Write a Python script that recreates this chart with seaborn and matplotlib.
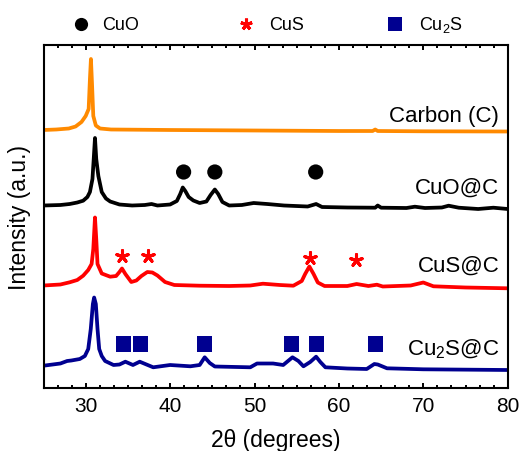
import numpy as np
import pandas as pd
import matplotlib
matplotlib.use("Agg")
import matplotlib.pyplot as plt
from matplotlib.lines import Line2D
from matplotlib.ticker import MultipleLocator, AutoMinorLocator, NullLocator
import seaborn as sns

# ---------------- data ----------------
carbon_x = [25.0, 26.5, 28.0, 28.8, 29.5, 30.0, 30.35, 30.5, 30.62, 30.75, 30.9, 31.2, 31.7,
            33.0, 40.0, 50.0, 60.0, 64.0, 64.3, 64.6, 70.0, 80.0]
carbon_y = [258.0, 258.5, 259.5, 261.5, 266.0, 272.0, 279.0, 309.0, 329.0, 304.0, 272.0, 262.5, 259.5,
            258.5, 258.0, 257.5, 257.0, 257.0, 258.5, 257.0, 256.7, 256.5]

cuo_x = [25.0, 27.0, 28.1, 29.0, 29.7, 30.2, 30.5, 30.8, 30.95, 31.1, 31.25, 31.5, 31.9, 32.4, 32.9,
         34.0, 35.5, 37.0, 37.8, 38.5, 40.0, 40.8, 41.2, 41.5, 41.8, 42.2, 42.75, 43.5, 44.3, 44.8,
         45.3, 45.7, 46.2, 47.0, 48.5, 49.9, 51.5, 53.5, 56.3, 57.3, 58.0, 61.0, 64.3, 64.6, 65.0,
         68.0, 69.0, 70.2, 72.2, 73.0, 74.2, 76.5, 78.3, 80.0]
cuo_y = [182.5, 183.0, 184.0, 185.5, 187.3, 191.0, 196.0, 209.0, 229.0, 250.0, 229.0, 212.0, 196.0, 189.5, 186.5,
         183.5, 182.5, 183.0, 184.0, 182.5, 183.5, 187.0, 194.0, 200.5, 197.0, 191.0, 187.5, 185.0, 186.5, 193.0,
         198.5, 194.0, 186.0, 182.5, 183.0, 185.0, 184.0, 182.5, 181.5, 184.0, 181.0, 180.5, 180.3, 182.5, 180.3,
         180.0, 181.3, 180.0, 180.5, 182.3, 180.3, 179.0, 180.3, 179.0]

cus_x = [25.0, 27.0, 28.1, 29.0, 29.7, 30.3, 30.7, 30.9, 31.1, 31.25, 31.4, 31.9, 32.9, 33.6, 34.0,
         34.3, 34.7, 35.4, 36.0, 36.6, 37.3, 37.9, 38.5, 39.4, 40.5, 43.5, 47.0, 49.5, 51.0, 53.0,
         54.6, 55.6, 56.0, 56.5, 57.0, 57.5, 58.3, 61.0, 62.1, 63.5, 64.5, 65.2, 68.5, 70.0, 71.2,
         75.0, 80.0]
cus_y = [102.5, 103.5, 105.7, 108.0, 112.3, 118.0, 124.0, 139.0, 170.5, 149.0, 124.0, 114.5, 111.3, 112.0, 116.0,
         119.5, 114.0, 106.0, 107.5, 112.0, 116.0, 115.5, 112.5, 106.0, 103.0, 102.3, 102.0, 102.5, 104.3, 103.0,
         102.3, 107.0, 114.0, 121.5, 114.0, 105.5, 102.0, 102.0, 104.0, 102.0, 103.3, 101.5, 102.5, 105.5, 101.7,
         100.5, 99.7]

cu2s_x = [25.0, 27.0, 27.8, 28.3, 29.3, 29.9, 30.3, 30.6, 30.85, 31.0, 31.2, 31.4, 31.6, 31.9, 32.3,
          33.3, 34.0, 34.7, 35.6, 36.4, 38.0, 40.0, 42.4, 43.5, 44.1, 44.7, 45.3, 49.5, 50.3, 52.2,
          53.4, 54.5, 55.2, 55.8, 56.6, 57.3, 57.8, 58.4, 61.0, 63.3, 64.2, 64.6, 65.7, 70.0, 80.0]
cu2s_y = [22.3, 24.5, 27.0, 27.5, 29.0, 32.0, 39.0, 59.0, 84.0, 90.5, 84.0, 59.0, 39.0, 32.0, 27.0,
          23.0, 23.5, 26.3, 23.0, 26.3, 20.7, 23.0, 21.7, 23.0, 30.7, 25.0, 21.5, 20.7, 24.5, 24.5,
          23.0, 30.7, 27.0, 21.7, 26.0, 31.3, 26.0, 20.7, 19.5, 19.0, 24.0, 23.5, 19.7, 18.7, 18.0]

# phase markers
cuo_mark_x = [41.6, 45.3, 57.25]
cuo_mark_y = [216.0, 216.0, 216.0]
cus_mark_x = [34.27, 37.42, 56.6, 62.0]
cus_mark_y = [131.7, 131.7, 129.7, 128.0]
cu2s_mark_x = [34.5, 36.5, 44.05, 54.4, 57.3, 64.3]
cu2s_mark_y = [44.0, 44.0, 44.0, 44.0, 44.0, 44.0]

sample_labels = ["Carbon (C)", "CuO@C", "CuS@C", "Cu$_2$S@C"]
label_y = [267.3, 195.7, 117.3, 34.0]
legend_labels = ["CuO", "CuS", "Cu$_2$S"]

x_ticks = [30, 40, 50, 60, 70, 80]

# ---------------- style ----------------
sns.set_theme(style="ticks")
plt.rcParams["font.family"] = ["Liberation Sans", "DejaVu Sans"]
plt.rcParams["mathtext.default"] = "regular"

C_ORANGE = "#FF8A00"
C_BLACK = "#000000"
C_RED = "#FF0000"
C_BLUE = "#000090"

W, H = 526, 452
fig = plt.figure(figsize=(W / 100, H / 100), dpi=100)
ax = fig.add_axes([43.5 / W, 1 - 389 / H, (507.7 - 43.5) / W, (389 - 45.7) / H])

series = [
    (carbon_x, carbon_y, C_ORANGE),
    (cuo_x, cuo_y, C_BLACK),
    (cus_x, cus_y, C_RED),
    (cu2s_x, cu2s_y, C_BLUE),
]
for xs, ys, col in series:
    df = pd.DataFrame({"x": xs, "y": ys})
    sns.lineplot(data=df, x="x", y="y", color=col, lw=2.7, sort=False,
                 estimator=None, ax=ax, solid_joinstyle="round", solid_capstyle="round")

# phase markers
sns.scatterplot(x=cuo_mark_x, y=cuo_mark_y, marker="o", s=120, color=C_BLACK,
                edgecolor="none", ax=ax, zorder=5)
sns.scatterplot(x=cus_mark_x, y=cus_mark_y, marker=(5, 2, 0), s=72, color=C_RED,
                linewidth=2.2, ax=ax, zorder=5)
sns.scatterplot(x=cu2s_mark_x, y=cu2s_mark_y, marker="s", s=118, color=C_BLUE,
                edgecolor="none", ax=ax, zorder=5)

# sample labels
for lab, ly in zip(sample_labels, label_y):
    ax.text(79.0, ly, lab, ha="right", va="baseline", fontsize=16, color="black")

ax.set_xlim(25, 80)
ax.set_ylim(0, 343.3)
ax.set_xticks(x_ticks)
ax.xaxis.set_minor_locator(AutoMinorLocator(6))
ax.yaxis.set_major_locator(NullLocator())
ax.yaxis.set_minor_locator(NullLocator())
ax.tick_params(axis="x", which="both", direction="in", top=True, bottom=True,
               labelsize=15, pad=5.5, colors="black")
ax.tick_params(axis="x", which="major", length=3.8, width=1.4)
ax.tick_params(axis="x", which="minor", length=2.2, width=1.4)
for sp in ax.spines.values():
    sp.set_visible(True)
    sp.set_linewidth(1.5)
    sp.set_color("black")

ax.set_xlabel("2θ (degrees)", fontsize=16.5, labelpad=9.5, color="black")
ax.set_ylabel("Intensity (a.u.)", fontsize=16.5, labelpad=9, color="black")

# legend row above the axes
leg_marker_x = [80.7, 246.0, 395.0]
leg_text_x = [101.7, 269.3, 419.3]
leg_y = 25.0
leg_styles = [
    dict(marker="o", markersize=9.5, color=C_BLACK, markeredgewidth=0),
    dict(marker=(5, 2, 0), markersize=8.5, color=C_RED, markeredgewidth=2.2),
    dict(marker="s", markersize=10.0, color=C_BLUE, markeredgewidth=0),
]
for mx, tx, lab, st in zip(leg_marker_x, leg_text_x, legend_labels, leg_styles):
    fig.add_artist(Line2D([mx / W], [1 - leg_y / H], transform=fig.transFigure,
                          linestyle="none", **st))
    fig.text(tx / W, 1 - leg_y / H, lab, ha="left", va="center", fontsize=13, color="black")

fig.savefig("out.png", dpi=100)
